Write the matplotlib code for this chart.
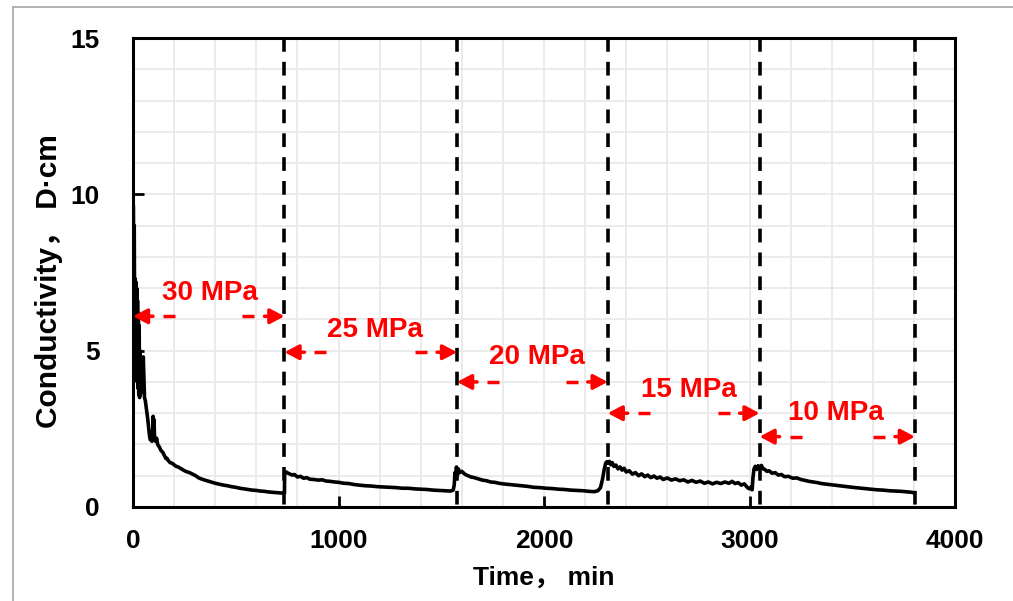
import matplotlib
matplotlib.use("Agg")
import matplotlib.pyplot as plt
from matplotlib.lines import Line2D

# ---------------- data ----------------
t_30 = [2, 4, 6, 8, 10, 12, 14, 16, 18, 20, 22, 24, 26, 28, 30, 32, 34, 36, 38, 40,
        42, 44, 46, 48, 50,
        53, 56, 60, 64, 68, 72, 76, 80, 84, 88, 92, 96, 98, 100, 102, 105, 110, 115,
        120, 125, 130, 135, 140, 145, 150, 155, 160, 165, 170, 180, 190, 200, 210,
        220, 230, 245, 260, 275, 290, 305, 320, 340, 360, 380, 400, 420, 440, 460,
        480, 500, 520, 540, 560, 580, 600, 620, 640, 660, 680, 700, 720, 735]
k_30 = [9.6, 7.0, 9.0, 6.0, 7.3, 5.0, 7.2, 4.4, 7.0, 4.0, 6.6, 3.8, 6.2, 3.6, 5.8,
        3.5, 5.0, 3.6, 4.6, 4.0, 4.4, 3.7, 4.2, 4.0, 4.8,
        4.1, 3.5, 3.4, 3.2, 3.0, 2.8, 2.55, 2.3, 2.15, 2.2, 2.1, 2.5, 2.9, 2.4, 2.8,
        2.2, 2.1, 2.2, 2.0, 1.95, 1.9, 1.82, 1.78, 1.75, 1.68, 1.62, 1.55, 1.56, 1.5,
        1.42, 1.4, 1.35, 1.3, 1.28, 1.24, 1.18, 1.13, 1.1, 1.05, 1.0, 0.93, 0.88,
        0.84, 0.8, 0.76, 0.73, 0.7, 0.68, 0.65, 0.63, 0.6, 0.58, 0.56, 0.54, 0.53,
        0.51, 0.5, 0.48, 0.47, 0.46, 0.45, 0.44]

t_25 = [737, 738, 745, 755, 765, 775, 785, 800, 815, 830, 845, 860, 880, 900, 920,
        940, 960, 980, 1000, 1025, 1050, 1075, 1100, 1130, 1160, 1190, 1220, 1250,
        1280, 1310, 1340, 1370, 1400, 1430, 1460, 1490, 1520, 1545, 1558, 1563,
        1567, 1570, 1574, 1578]
k_25 = [0.44, 1.1, 1.12, 1.08, 1.05, 1.02, 1.04, 0.96, 0.98, 0.92, 0.94, 0.89, 0.88,
        0.86, 0.87, 0.83, 0.82, 0.8, 0.79, 0.76, 0.75, 0.72, 0.7, 0.68, 0.67, 0.65,
        0.64, 0.63, 0.62, 0.6, 0.6, 0.58, 0.57, 0.56, 0.54, 0.53, 0.52, 0.51, 0.54,
        0.7, 1.1, 0.95, 1.28, 1.0]

t_20 = [1583, 1590, 1600, 1615, 1630, 1645, 1660, 1680, 1700, 1720, 1740, 1760, 1780,
        1800, 1830, 1860, 1890, 1920, 1950, 1980, 2010, 2040, 2070, 2100, 2130, 2160,
        2190, 2220, 2245, 2262, 2275, 2285, 2293, 2300, 2306]
k_20 = [1.22, 1.1, 1.14, 1.05, 1.0, 0.96, 0.94, 0.9, 0.86, 0.84, 0.8, 0.79, 0.76,
        0.74, 0.72, 0.7, 0.68, 0.66, 0.63, 0.62, 0.6, 0.59, 0.57, 0.56, 0.54, 0.53,
        0.52, 0.5, 0.49, 0.52, 0.62, 0.9, 1.2, 1.4, 1.45]

t_15 = [2312, 2318, 2325, 2332, 2340, 2350, 2360, 2370, 2380, 2390, 2400, 2415, 2430,
        2445, 2460, 2475, 2490, 2505, 2520, 2535, 2550, 2565, 2580, 2600, 2620, 2640,
        2660, 2680, 2700, 2720, 2740, 2760, 2780, 2800, 2820, 2840, 2860, 2880, 2900,
        2915, 2930, 2945, 2960, 2975, 2990, 3000, 3008, 3013]
k_15 = [1.4, 1.46, 1.35, 1.42, 1.3, 1.34, 1.22, 1.28, 1.18, 1.24, 1.12, 1.16, 1.05,
        1.1, 1.0, 1.06, 0.97, 1.02, 0.94, 0.99, 0.92, 0.96, 0.88, 0.93, 0.86, 0.9,
        0.84, 0.87, 0.8, 0.85, 0.79, 0.83, 0.76, 0.8, 0.74, 0.79, 0.75, 0.8, 0.76,
        0.82, 0.75, 0.78, 0.7, 0.74, 0.62, 0.58, 0.64, 0.55]

t_10 = [3017, 3022, 3028, 3035, 3042, 3050, 3058, 3066, 3075, 3085, 3095, 3110, 3125,
        3140, 3155, 3170, 3190, 3210, 3230, 3250, 3270, 3290, 3310, 3330, 3350, 3375,
        3400, 3425, 3450, 3475, 3500, 3530, 3560, 3590, 3620, 3650, 3680, 3710, 3740,
        3770, 3790, 3800]
k_10 = [0.95, 1.22, 1.3, 1.2, 1.32, 1.25, 1.33, 1.22, 1.2, 1.14, 1.16, 1.08, 1.1,
        1.02, 1.04, 0.97, 0.98, 0.92, 0.93, 0.88, 0.85, 0.82, 0.8, 0.78, 0.75, 0.73,
        0.71, 0.69, 0.67, 0.65, 0.63, 0.61, 0.59, 0.57, 0.55, 0.54, 0.52, 0.51, 0.5,
        0.48, 0.47, 0.45]

stage_bounds = [0, 737, 1577, 2310, 3049, 3805]
stage_labels = ["30 MPa", "25 MPa", "20 MPa", "15 MPa", "10 MPa"]
arrow_y = [6.1, 4.95, 4.0, 3.0, 2.25]
label_x = [375, 1175, 1965, 2705, 3420]
label_y = [6.84, 5.66, 4.8, 3.74, 3.0]

x_ticks = [0, 1000, 2000, 3000, 4000]
y_ticks = [0, 5, 10, 15]

time_min = t_30 + t_25 + t_20 + t_15 + t_10
conductivity = k_30 + k_25 + k_20 + k_15 + k_10

# ---------------- figure ----------------
plt.rcParams['font.family'] = ['Liberation Sans', 'Noto Sans CJK SC', 'DejaVu Sans']
plt.rcParams['font.weight'] = 'bold'

fig = plt.figure(figsize=(10.13, 6.01), dpi=100)
ax = fig.add_axes([133 / 1013, 1 - 507 / 601, (955 - 133) / 1013, (507 - 38) / 601])

# figure border (left/top visible)
fig.add_artist(Line2D([13 / 1013, 13 / 1013], [0, 1 - 7 / 601], transform=fig.transFigure,
                      color='#a6a6a6', lw=1.2))
fig.add_artist(Line2D([13 / 1013, 1], [1 - 7 / 601, 1 - 7 / 601], transform=fig.transFigure,
                      color='#a6a6a6', lw=1.2))

ax.set_xlim(0, 4000)
ax.set_ylim(0, 15)
ax.set_xticks(x_ticks)
ax.set_yticks(y_ticks)
ax.set_xticks(range(0, 4001, 200), minor=True)
ax.set_yticks(range(0, 16, 1), minor=True)
ax.grid(which='both', color='#e9e9e9', lw=1.3, zorder=0)
ax.set_axisbelow(True)

ax.tick_params(axis='both', which='major', direction='in', length=8, width=2,
               labelsize=19)
ax.tick_params(axis='y', which='major', pad=24)
ax.tick_params(axis='x', which='major', pad=16)
ax.tick_params(which='minor', length=0)
for lab in ax.get_xticklabels() + ax.get_yticklabels():
    lab.set_fontweight('bold')
for s in ax.spines.values():
    s.set_linewidth(2.2)

# data
ax.plot(time_min, conductivity, color='black', lw=2.6, zorder=3,
        solid_joinstyle='round')

# dashed stage boundaries (dash pattern starting at the top)
for xb in stage_bounds[1:]:
    ax.plot([xb, xb], [1, 0], transform=ax.get_xaxis_transform(), color='black',
            lw=2.6, dashes=(3.8, 2.8), zorder=4, clip_on=False)

# arrows
px = 4000 / 822.0  # minutes per pixel
L = 20 * px
gap = 10 * px
dash = 12 * px
for i in range(5):
    x0, x1, y = stage_bounds[i], stage_bounds[i + 1], arrow_y[i]
    props = dict(arrowstyle='-|>,head_length=0.85,head_width=0.45', color='red', lw=2.5,
                 shrinkA=0, shrinkB=0)
    ax.annotate('', xy=(x0, y), xytext=(x0 + L, y), arrowprops=props, zorder=5)
    ax.annotate('', xy=(x1, y), xytext=(x1 - L, y), arrowprops=props, zorder=5)
    ax.plot([x0 + L + gap, x0 + L + gap + dash], [y, y], color='red', lw=2.5,
            solid_capstyle='butt', zorder=5)
    ax.plot([x1 - L - gap - dash, x1 - L - gap], [y, y], color='red', lw=2.5,
            solid_capstyle='butt', zorder=5)
    ax.text(label_x[i], label_y[i], stage_labels[i], color='red', fontsize=20,
            fontweight='bold', ha='center', va='center', zorder=6)

ax.set_xlabel('Time， min', fontsize=19, fontweight='bold')
ax.xaxis.set_label_coords(0.5, -0.125)
ax.text((49 - 133) / 822, (507 - 281) / 469, 'Conductivity， D·cm', rotation=90,
        transform=ax.transAxes, ha='center', va='center', fontsize=21.5,
        fontweight='bold')

fig.savefig('out.png', dpi=100)
